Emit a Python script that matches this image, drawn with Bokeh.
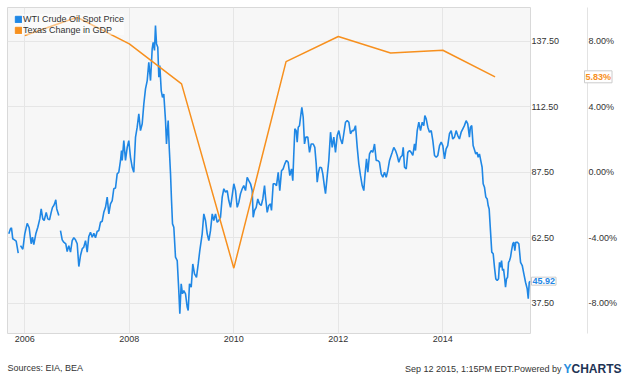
from bokeh.plotting import figure
from bokeh.layouts import column
from bokeh.models import (Range1d, LinearAxis, FixedTicker, PrintfTickFormatter,
                          NumeralTickFormatter, Legend, LegendItem, Label)
from bokeh.embed import file_html
from bokeh.resources import INLINE

nan = float("nan")

# WTI crude oil spot price (USD), fractional year; NaN = gap in the series
wti_year = [
    2005.694, 2005.726, 2005.745, 2005.770, 2005.803, 2005.835, 2005.855, 2005.874, nan,
    2005.918, 2005.962, 2006.000, 2006.046, 2006.084, 2006.122, 2006.147, 2006.172, 2006.211,
    2006.249, 2006.287, 2006.314, 2006.344, 2006.371, 2006.410, 2006.440, 2006.473, 2006.505,
    2006.530, 2006.555, 2006.574, 2006.593, 2006.612, 2006.651, nan,
    2006.683, 2006.716, 2006.746, 2006.785, 2006.811, 2006.842, 2006.875, 2006.907, 2006.938,
    2006.970, 2007.003, 2007.034, 2007.066, 2007.099, 2007.129, 2007.162, 2007.194, 2007.225,
    2007.257, 2007.290, 2007.321, 2007.353, 2007.386, 2007.416, 2007.449, 2007.481, 2007.512,
    2007.545, 2007.577, 2007.608, 2007.640, 2007.673, 2007.703, 2007.736, 2007.768, 2007.799,
    2007.832, 2007.851, 2007.864, 2007.895, 2007.927, 2007.960, 2007.990, 2008.023, 2008.056,
    2008.086, 2008.119, 2008.151, 2008.182, 2008.214, 2008.247, 2008.278, 2008.310, 2008.343,
    2008.373, 2008.406, 2008.438, 2008.457, 2008.482, 2008.501, 2008.521, 2008.545, 2008.565,
    2008.584, 2008.611, 2008.635, 2008.660, 2008.693, 2008.712, 2008.725, 2008.744, 2008.764,
    2008.789, 2008.808, 2008.827, 2008.852, 2008.884, 2008.917, 2008.947, 2008.967, 2008.993,
    2009.018, 2009.043, 2009.076, 2009.108, 2009.127, 2009.152, 2009.185, 2009.215, 2009.248,
    2009.286, 2009.319, 2009.349, 2009.395, 2009.426, 2009.458, 2009.491, 2009.522, 2009.554,
    2009.587, 2009.617, 2009.650, 2009.682, 2009.713, 2009.745, 2009.778, 2009.809, 2009.841,
    2009.874, 2009.904, 2009.937, 2009.969, 2010.000, 2010.033, 2010.065, 2010.096, 2010.128,
    2010.161, 2010.191, 2010.224, 2010.256, 2010.287, 2010.320, 2010.352, 2010.371, 2010.396,
    2010.429, 2010.459, 2010.492, 2010.524, 2010.555, 2010.588, 2010.607, 2010.639, 2010.670,
    2010.702, 2010.721, 2010.754, 2010.785, 2010.817, 2010.850, 2010.880, 2010.913, 2010.945,
    2010.976, 2011.008, 2011.041, 2011.072, 2011.104, 2011.129, 2011.148, 2011.168, 2011.194,
    2011.213, 2011.233, 2011.257, 2011.277, 2011.302, 2011.328, 2011.353, 2011.378, 2011.416,
    2011.449, 2011.481, 2011.520, 2011.550, 2011.577, 2011.596, 2011.621, 2011.646, 2011.679,
    2011.703, 2011.736, 2011.755, 2011.788, 2011.818, 2011.851, 2011.883, 2011.914, 2011.946,
    2011.979, 2012.010, 2012.042, 2012.075, 2012.105, 2012.138, 2012.170, 2012.201, 2012.233,
    2012.266, 2012.297, 2012.329, 2012.362, 2012.392, 2012.425, 2012.457, 2012.488, 2012.507,
    2012.540, 2012.565, 2012.597, 2012.630, 2012.660, 2012.693, 2012.725, 2012.756, 2012.788,
    2012.821, 2012.852, 2012.884, 2012.917, 2012.947, 2012.980, 2013.000, 2013.032, 2013.062,
    2013.095, 2013.127, 2013.158, 2013.190, 2013.223, 2013.242, 2013.267, 2013.300, 2013.330,
    2013.363, 2013.395, 2013.426, 2013.458, 2013.477, 2013.510, 2013.541, 2013.573, 2013.606,
    2013.636, 2013.656, 2013.682, 2013.713, 2013.745, 2013.778, 2013.809, 2013.841, 2013.874,
    2013.904, 2013.937, 2013.969, 2014.000, 2014.033, 2014.063, 2014.094, 2014.127, 2014.160,
    2014.190, 2014.223, 2014.255, 2014.286, 2014.318, 2014.351, 2014.383, 2014.413, 2014.446,
    2014.477, 2014.509, 2014.528, 2014.553, 2014.580, 2014.610, 2014.630, 2014.656, 2014.676,
    2014.701, 2014.733, 2014.752, 2014.772, 2014.797, 2014.823, 2014.849, 2014.868, 2014.887,
    2014.912, 2014.937, 2014.964, 2014.989, 2015.014, 2015.041, 2015.066, 2015.085, 2015.104,
    2015.124, 2015.143, 2015.162, 2015.181, 2015.200, 2015.219, 2015.239, 2015.258, 2015.277,
    2015.296, 2015.315, 2015.340, 2015.359, 2015.378, 2015.397, 2015.424, 2015.455, 2015.488,
    2015.520, 2015.551, 2015.583, 2015.615, 2015.635, 2015.654, 2015.673,
]
wti_price = [
    64.0, 65.9, 66.3, 62.1, 61.7, 61.2, 58.9, 56.6, nan,
    59.5, 58.1, 64.0, 68.0, 66.3, 60.2, 62.7, 59.9, 64.0,
    66.5, 69.7, 73.5, 69.7, 69.1, 72.2, 69.7, 69.3, 72.2,
    74.1, 74.8, 75.7, 77.0, 73.5, 71.0, nan,
    65.2, 61.7, 60.8, 60.2, 57.2, 59.5, 57.0, 61.4, 62.5,
    61.7, 60.2, 51.5, 55.7, 58.3, 58.9, 61.4, 57.0, 63.0,
    64.6, 62.7, 64.2, 62.5, 65.0, 65.2, 68.4, 68.8, 72.2,
    74.1, 78.0, 71.6, 75.4, 76.7, 81.2, 81.5, 86.9, 87.5,
    92.0, 95.8, 92.0, 99.6, 92.0, 97.0, 99.6, 93.2, 89.4,
    87.5, 100.9, 104.7, 109.8, 103.4, 106.0, 113.6, 119.3, 122.5,
    129.5, 122.5, 134.6, 137.1, 134.0, 143.5, 136.5, 135.2, 123.8,
    128.2, 118.7, 116.1, 117.4, 107.2, 98.3, 102.2, 107.2, 97.0,
    86.9, 76.7, 67.8, 66.5, 55.1, 53.8, 42.3, 33.5, 44.9,
    41.1, 42.3, 41.1, 36.0, 34.7, 44.9, 43.6, 52.5, 48.7,
    47.4, 52.5, 57.6, 64.0, 71.6, 69.1, 64.0, 61.4, 65.2,
    71.6, 69.1, 71.6, 68.4, 69.1, 70.3, 78.0, 81.2, 79.9,
    80.5, 76.7, 74.1, 78.6, 83.1, 80.5, 74.1, 76.0, 79.3,
    81.2, 82.4, 80.5, 85.6, 84.3, 83.1, 80.5, 70.3, 72.9,
    74.1, 77.3, 75.4, 74.8, 77.3, 82.4, 78.0, 72.2, 74.8,
    75.4, 72.9, 83.1, 83.1, 82.4, 87.5, 80.5, 88.1, 88.8,
    90.7, 92.0, 91.3, 86.2, 88.8, 84.3, 94.5, 104.1, 103.4,
    99.0, 104.7, 105.3, 108.5, 112.3, 108.5, 98.3, 100.9, 100.9,
    95.1, 98.3, 98.3, 97.0, 90.7, 83.7, 87.5, 89.4, 89.2,
    86.9, 81.8, 79.3, 86.2, 92.0, 102.8, 97.0, 100.9, 95.1,
    101.5, 103.4, 100.2, 98.3, 102.2, 106.6, 107.2, 106.6, 102.2,
    103.4, 103.4, 105.3, 97.0, 90.7, 86.2, 82.4, 80.5, 85.6,
    92.6, 87.5, 94.5, 95.8, 95.1, 98.3, 92.0, 92.0, 91.3,
    86.9, 85.6, 87.5, 85.6, 88.1, 92.0, 93.2, 95.1, 97.0,
    95.8, 93.9, 91.3, 93.2, 93.9, 97.0, 89.4, 88.8, 95.1,
    95.8, 95.1, 93.9, 98.3, 95.8, 103.4, 106.6, 103.4, 106.6,
    105.3, 109.1, 107.9, 104.7, 102.8, 103.4, 99.6, 93.9, 93.2,
    93.9, 97.7, 99.0, 97.7, 92.6, 96.4, 97.7, 102.2, 103.4,
    100.2, 100.9, 103.4, 101.5, 100.2, 102.8, 104.1, 105.3, 107.2,
    106.0, 100.9, 104.7, 105.3, 97.7, 95.8, 94.5, 95.1, 93.2,
    94.5, 91.3, 89.4, 83.1, 81.8, 78.0, 77.3, 74.8, 73.5,
    65.2, 57.0, 56.4, 51.2, 46.8, 46.2, 46.8, 53.1, 51.2,
    53.8, 50.0, 50.6, 47.4, 43.6, 46.8, 47.4, 53.1, 53.8,
    55.1, 57.6, 60.2, 60.8, 57.6, 60.8, 60.8, 60.2, 53.1,
    51.9, 48.7, 45.5, 43.0, 39.2, 45.5, 45.92,
]

# Texas change in GDP (%), yearly
gdp_year = [2006, 2007, 2008, 2009, 2010, 2011, 2012, 2013, 2014, 2015]
gdp_change = [8.35, 9.47, 7.84, 5.40, -5.86, 6.76, 8.29, 7.29, 7.45, 5.83]

x_ticks = [2006, 2008, 2010, 2012, 2014]
price_ticks = [37.5, 62.5, 87.5, 112.5, 137.5]
pct_ticks = [-8, -4, 0, 4, 8]

BLUE = "#1f87e5"
ORANGE = "#f7901e"
TXT = "#333333"
FONT = "Liberation Sans"

X0, X1 = 2005.669, 2015.678
p = figure(width=624, height=361, output_backend="svg", toolbar_location=None,
           x_range=Range1d(X0, X1), y_range=Range1d(25.94, 150.4),
           y_axis_location="right",
           min_border_left=7, min_border_top=7, min_border_right=94, min_border_bottom=28,
           background_fill_color="#f7f7f7", border_fill_color="white",
           outline_line_color="#d9d9d9")
p.frame_align = False
p.extra_y_ranges = {"pct": Range1d(-9.85, 10.064)}


def style_axis(ax, standoff):
    ax.axis_line_color = None
    ax.major_tick_line_color = None
    ax.minor_tick_line_color = None
    ax.major_tick_out = 0
    ax.major_tick_in = 0
    ax.minor_tick_out = 0
    ax.minor_tick_in = 0
    ax.major_label_standoff = standoff
    ax.major_label_text_font = FONT
    ax.major_label_text_font_size = "9px"
    ax.major_label_text_color = TXT


# x axis
xa = p.xaxis[0]
xa.ticker = FixedTicker(ticks=x_ticks)
xa.formatter = PrintfTickFormatter(format="%d")
style_axis(xa, 2)

# price axis (right, inner)
ya = p.yaxis[0]
ya.ticker = FixedTicker(ticks=price_ticks)
ya.formatter = NumeralTickFormatter(format="0.00")
style_axis(ya, 1)

# last WTI value box (sits in the right panel, between the two axes)
p.add_layout(Label(x=X1, y=wti_price[-1], x_offset=1, text=f"{wti_price[-1]:.2f}",
                   text_font=FONT, text_font_size="9px", text_font_style="bold",
                   text_color=BLUE, text_baseline="middle", text_align="left",
                   background_fill_color="white", border_line_color="#cccccc", padding=1),
             "right")

# percent axis (right, outer)
pa = LinearAxis(y_range_name="pct", ticker=FixedTicker(ticks=pct_ticks),
                formatter=PrintfTickFormatter(format="%.2f%%"))
style_axis(pa, 1)
pa.axis_line_color = "#e3e3e3"
p.add_layout(pa, "right")

p.xgrid.grid_line_color = "#e6e6e6"
p.ygrid.grid_line_color = "#e6e6e6"

p.line(wti_year, wti_price, color=BLUE, line_width=1.6)
p.line(gdp_year, gdp_change, y_range_name="pct", color=ORANGE, line_width=1.5)

# legend with square swatches (placeholder renderers without visible data)
sq1 = p.quad(left=[nan], right=[nan], top=[nan], bottom=[nan], color=BLUE)
sq2 = p.quad(left=[nan], right=[nan], top=[nan], bottom=[nan], color=ORANGE)
legend = Legend(items=[LegendItem(label="WTI Crude Oil Spot Price", renderers=[sq1]),
                       LegendItem(label="Texas Change in GDP", renderers=[sq2])],
                location="top_left", margin=7, padding=0, spacing=1,
                glyph_width=8, glyph_height=8, label_standoff=1, label_height=10,
                label_text_font=FONT, label_text_font_size="9px", label_text_color=TXT,
                background_fill_color="white", background_fill_alpha=0.45,
                border_line_color=None)
p.add_layout(legend)

# last GDP value box (data position, drawn from the below panel so it is not clipped)
p.add_layout(Label(x=X1, y=gdp_change[-1], y_range_name="pct", x_offset=54,
                   text=f"{gdp_change[-1]:.2f}%",
                   text_font=FONT, text_font_size="9px", text_font_style="bold",
                   text_color=ORANGE, text_baseline="middle", text_align="left",
                   background_fill_color="white", border_line_color="#cccccc", padding=1),
             "below")

# footer
f = figure(width=624, height=13, output_backend="svg", toolbar_location=None,
           x_range=Range1d(0, 1), y_range=Range1d(0, 1),
           x_axis_type=None, y_axis_type=None,
           min_border_left=0, min_border_right=0, min_border_top=0, min_border_bottom=0,
           outline_line_color=None, background_fill_color="white", border_fill_color="white")
f.frame_align = False
f.xgrid.visible = False
f.ygrid.visible = False
f.add_layout(Label(x=7, y=7, x_units="screen", y_units="screen", text="Sources: EIA, BEA",
                   text_font=FONT, text_font_size="9px", text_color=TXT, text_baseline="middle"))
f.add_layout(Label(x=561, y=6, x_units="screen", y_units="screen",
                   text="Sep 12 2015, 1:15PM EDT.Powered by",
                   text_font=FONT, text_font_size="9px", text_color=TXT,
                   text_baseline="middle", text_align="right"))
f.add_layout(Label(x=571, y=6, x_units="screen", y_units="screen", text="Y",
                   text_font=FONT, text_font_size="12px", text_font_style="bold",
                   text_color="#2a8ee0", text_baseline="middle", text_align="right"))
f.add_layout(Label(x=621, y=6, x_units="screen", y_units="screen", text="CHARTS",
                   text_font=FONT, text_font_size="12px", text_font_style="bold",
                   text_color="#1d3354", text_baseline="middle", text_align="right"))

layout = column(p, f, spacing=0)
open("out.html", "w").write(file_html(layout, INLINE))
